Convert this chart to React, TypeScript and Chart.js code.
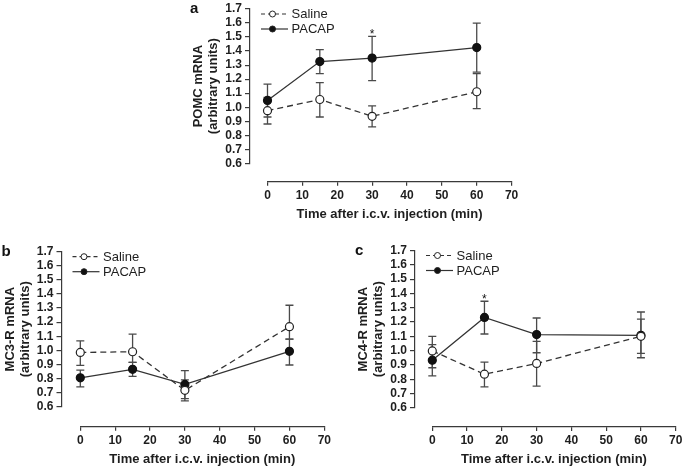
import React, { useEffect, useRef } from 'react';
import { Chart, registerables } from 'chart.js';

Chart.register(...registerables);

const FONT = "'Liberation Sans', Arial, Helvetica, sans-serif";

// ---------- data ----------
const TIMES = [0, 15, 30, 60];
const SERIES_NAMES = ['Saline', 'PACAP'];
const X_TITLE = 'Time after i.c.v. injection (min)';
const X_MIN = 0;
const X_MAX = 70;
const X_STEP = 10;
const Y_MIN = 0.6;
const Y_MAX = 1.7;
const Y_STEP = 0.1;

// Panel a: POMC
const A_TITLE = ['POMC mRNA', '(arbitrary units)'];
const A_SALINE = [0.975, 1.055, 0.935, 1.11];
const A_SALINE_HI = [1.07, 1.175, 1.01, 1.24];
const A_SALINE_LO = [0.88, 0.93, 0.86, 0.99];
const A_PACAP = [1.048, 1.325, 1.35, 1.425];
const A_PACAP_HI = [1.165, 1.41, 1.505, 1.6];
const A_PACAP_LO = [0.93, 1.24, 1.19, 1.25];
const A_STARS = [{ x: 30, y: 1.54 }];

// Panel b: MC3-R
const B_TITLE = ['MC3-R mRNA', '(arbitrary units)'];
const B_SALINE = [0.985, 0.99, 0.716, 1.168];
const B_SALINE_HI = [1.067, 1.115, 0.79, 1.32];
const B_SALINE_LO = [0.893, 0.915, 0.642, 1.08];
const B_PACAP = [0.805, 0.865, 0.758, 0.993];
const B_PACAP_HI = [0.86, 0.915, 0.856, 1.08];
const B_PACAP_LO = [0.74, 0.815, 0.658, 0.896];
const B_STARS: { x: number; y: number }[] = [];

// Panel c: MC4-R
const C_TITLE = ['MC4-R mRNA', '(arbitrary units)'];
const C_SALINE = [0.998, 0.835, 0.91, 1.1];
const C_SALINE_HI = [1.1, 0.92, 1.065, 1.22];
const C_SALINE_LO = [0.88, 0.747, 0.751, 0.98];
const C_PACAP = [0.933, 1.232, 1.112, 1.107];
const C_PACAP_HI = [1.042, 1.345, 1.228, 1.27];
const C_PACAP_LO = [0.823, 1.116, 0.985, 0.95];
const C_STARS = [{ x: 15, y: 1.385 }];

const PANEL_LABELS = ['a', 'b', 'c'];

// ---------- layout (page pixels) ----------
type Geo = {
  L: number; T: number; W: number; H: number;
  axisX: number; x0: number; x70: number; y17: number; y06: number; xAxisY: number;
};
const GEO_A: Geo = { L: 180, T: 0, W: 360, H: 232, axisX: 250, x0: 267.5, x70: 511.6, y17: 6.7, y06: 163.3, xAxisY: 181.7 };
const GEO_B: Geo = { L: 0, T: 232, W: 340, H: 236, axisX: 61.5, x0: 80.3, x70: 324.3, y17: 251.7, y06: 406.7, xAxisY: 426.7 };
const GEO_C: Geo = { L: 340, T: 232, W: 345, H: 236, axisX: 415, x0: 432.3, x70: 675.7, y17: 250.5, y06: 407.8, xAxisY: 427 };

const X_AXIS_H = 40;
const AXIS_COLOR = '#3a3a3a';
const TEXT_COLOR = '#1e1e1e';
const LINE_COLOR = '#333333';
const ERR_COLOR = '#4a4a4a';

const decorPlugin = {
  id: 'decor',
  beforeDatasetsDraw(chart: any) {
    const ctx = chart.ctx;
    const ys = chart.scales.y;
    chart.data.datasets.forEach((ds: any, i: number) => {
      const meta = chart.getDatasetMeta(i);
      ctx.save();
      ctx.strokeStyle = ERR_COLOR;
      ctx.lineWidth = 1.3;
      meta.data.forEach((pt: any, j: number) => {
        const x = pt.x;
        const yh = ys.getPixelForValue(ds.errHi[j]);
        const yl = ys.getPixelForValue(ds.errLo[j]);
        ctx.beginPath();
        ctx.moveTo(x, yh);
        ctx.lineTo(x, yl);
        ctx.moveTo(x - 4, yh);
        ctx.lineTo(x + 4, yh);
        ctx.moveTo(x - 4, yl);
        ctx.lineTo(x + 4, yl);
        ctx.stroke();
      });
      ctx.restore();
    });
  },
  afterDraw(chart: any, _args: any, opts: any) {
    const ctx = chart.ctx;
    const ys = chart.scales.y;
    const xs = chart.scales.x;
    const ax = ys.right;
    const top = chart.chartArea.top;
    ctx.save();
    // legend
    chart.data.datasets.forEach((ds: any, i: number) => {
      const cy = top + 5 + 15 * i;
      ctx.strokeStyle = LINE_COLOR;
      ctx.lineWidth = 1.2;
      ctx.setLineDash(ds.borderDash && ds.borderDash.length ? [4, 3] : []);
      ctx.beginPath();
      ctx.moveTo(ax + 11, cy);
      ctx.lineTo(ax + 38, cy);
      ctx.stroke();
      ctx.setLineDash([]);
      ctx.beginPath();
      ctx.arc(ax + 22.5, cy, 3, 0, Math.PI * 2);
      ctx.fillStyle = ds.pointBackgroundColor;
      ctx.fill();
      ctx.strokeStyle = '#222';
      ctx.lineWidth = 1;
      ctx.stroke();
      ctx.fillStyle = TEXT_COLOR;
      ctx.font = `13px ${FONT}`;
      ctx.textBaseline = 'middle';
      ctx.textAlign = 'left';
      ctx.fillText(ds.label, ax + 41.5, cy + 0.5);
    });
    // panel label
    ctx.fillStyle = '#111';
    ctx.font = `bold 15px ${FONT}`;
    ctx.textBaseline = 'alphabetic';
    ctx.textAlign = 'left';
    ctx.fillText(opts.label, ax - 60, top + 4);
    // significance stars
    ctx.font = `12px ${FONT}`;
    ctx.textAlign = 'center';
    (opts.stars || []).forEach((s: any) => {
      ctx.fillText('*', xs.getPixelForValue(s.x), ys.getPixelForValue(s.y) + 7);
    });
    ctx.restore();
  },
};

function buildConfig(
  geo: Geo,
  title: string[],
  saline: number[], salineHi: number[], salineLo: number[],
  pacap: number[], pacapHi: number[], pacapLo: number[],
  label: string,
  stars: { x: number; y: number }[]
): any {
  const padLeft = geo.axisX - 51.5 - 7.5 - geo.L;
  const yW = geo.axisX - (geo.L + padLeft);
  const yGapW = geo.x0 - geo.axisX;
  const padRight = geo.L + geo.W - geo.x70;
  const padTop = geo.y17 - geo.T;
  const xGapH = geo.xAxisY - geo.y06;
  const padBottom = geo.T + geo.H - (geo.xAxisY + X_AXIS_H);

  return {
    type: 'line',
    data: {
      datasets: [
        {
          label: SERIES_NAMES[0],
          data: TIMES.map((t, i) => ({ x: t, y: saline[i] })),
          errHi: salineHi,
          errLo: salineLo,
          borderColor: LINE_COLOR,
          borderWidth: 1.3,
          borderDash: [6, 4],
          pointRadius: 4,
          pointBorderWidth: 1.2,
          pointBorderColor: '#222',
          pointBackgroundColor: '#ffffff',
          tension: 0,
          clip: false,
          xAxisID: 'x',
          yAxisID: 'y',
        },
        {
          label: SERIES_NAMES[1],
          data: TIMES.map((t, i) => ({ x: t, y: pacap[i] })),
          errHi: pacapHi,
          errLo: pacapLo,
          borderColor: LINE_COLOR,
          borderWidth: 1.3,
          pointRadius: 4,
          pointBorderWidth: 1.2,
          pointBorderColor: '#111',
          pointBackgroundColor: '#111111',
          tension: 0,
          clip: false,
          xAxisID: 'x',
          yAxisID: 'y',
        },
      ],
    },
    options: {
      responsive: false,
      animation: false,
      events: [],
      layout: { padding: { left: padLeft, right: padRight, top: padTop, bottom: padBottom } },
      plugins: {
        legend: { display: false },
        tooltip: { enabled: false },
        decor: { label, stars },
      },
      scales: {
        x: {
          type: 'linear',
          position: 'bottom',
          weight: 1,
          min: X_MIN,
          max: X_MAX,
          ticks: {
            stepSize: X_STEP,
            autoSkip: false,
            color: TEXT_COLOR,
            padding: 2.5,
            maxRotation: 0,
            font: { family: FONT, size: 12, weight: 'bold', lineHeight: 1.2 },
          },
          grid: { display: true, drawOnChartArea: false, drawTicks: true, tickLength: 4, color: AXIS_COLOR, lineWidth: 1.2 },
          border: { display: true, color: AXIS_COLOR, width: 1.2 },
          title: {
            display: true,
            text: X_TITLE,
            color: TEXT_COLOR,
            padding: { top: 0, bottom: 0 },
            font: { family: FONT, size: 13, weight: 'bold', lineHeight: 15 / 13 },
          },
          afterFit: (s: any) => { s.height = X_AXIS_H; },
        },
        xGap: {
          type: 'linear',
          axis: 'x',
          position: 'bottom',
          weight: 0,
          display: true,
          ticks: { display: false },
          grid: { display: false },
          border: { display: false },
          afterFit: (s: any) => { s.height = xGapH; },
        },
        y: {
          type: 'linear',
          position: 'left',
          weight: 1,
          min: Y_MIN,
          max: Y_MAX,
          ticks: {
            stepSize: Y_STEP,
            autoSkip: false,
            color: TEXT_COLOR,
            padding: 3,
            callback: (v: any) => Number(v).toFixed(1),
            font: { family: FONT, size: 12, weight: 'bold', lineHeight: 1 },
          },
          grid: { display: true, drawOnChartArea: false, drawTicks: true, tickLength: 5, color: AXIS_COLOR, lineWidth: 1.2 },
          border: { display: true, color: AXIS_COLOR, width: 1.2 },
          title: {
            display: true,
            text: title,
            color: TEXT_COLOR,
            padding: { top: 0, bottom: 0 },
            font: { family: FONT, size: 13, weight: 'bold', lineHeight: 15 / 13 },
          },
          afterFit: (s: any) => { s.width = yW; },
        },
        yGap: {
          type: 'linear',
          axis: 'y',
          position: 'left',
          weight: 0,
          display: true,
          ticks: { display: false },
          grid: { display: false },
          border: { display: false },
          afterFit: (s: any) => { s.width = yGapW; },
        },
      },
    },
    plugins: [decorPlugin],
  };
}

function Panel(props: { geo: Geo; config: any }) {
  const ref = useRef<HTMLCanvasElement | null>(null);
  const { geo, config } = props;
  useEffect(() => {
    if (!ref.current) return;
    const chart = new Chart(ref.current, config);
    return () => chart.destroy();
  }, [config]);
  return (
    <canvas
      ref={ref}
      width={geo.W}
      height={geo.H}
      style={{ position: 'absolute', left: geo.L, top: geo.T, width: geo.W, height: geo.H }}
    />
  );
}

const CONFIG_A = buildConfig(GEO_A, A_TITLE, A_SALINE, A_SALINE_HI, A_SALINE_LO, A_PACAP, A_PACAP_HI, A_PACAP_LO, PANEL_LABELS[0], A_STARS);
const CONFIG_B = buildConfig(GEO_B, B_TITLE, B_SALINE, B_SALINE_HI, B_SALINE_LO, B_PACAP, B_PACAP_HI, B_PACAP_LO, PANEL_LABELS[1], B_STARS);
const CONFIG_C = buildConfig(GEO_C, C_TITLE, C_SALINE, C_SALINE_HI, C_SALINE_LO, C_PACAP, C_PACAP_HI, C_PACAP_LO, PANEL_LABELS[2], C_STARS);

export default function App() {
  return (
    <div style={{ position: 'fixed', left: 0, top: 0, width: 685, height: 468, background: '#fff', overflow: 'hidden' }}>
      <Panel geo={GEO_A} config={CONFIG_A} />
      <Panel geo={GEO_B} config={CONFIG_B} />
      <Panel geo={GEO_C} config={CONFIG_C} />
    </div>
  );
}
